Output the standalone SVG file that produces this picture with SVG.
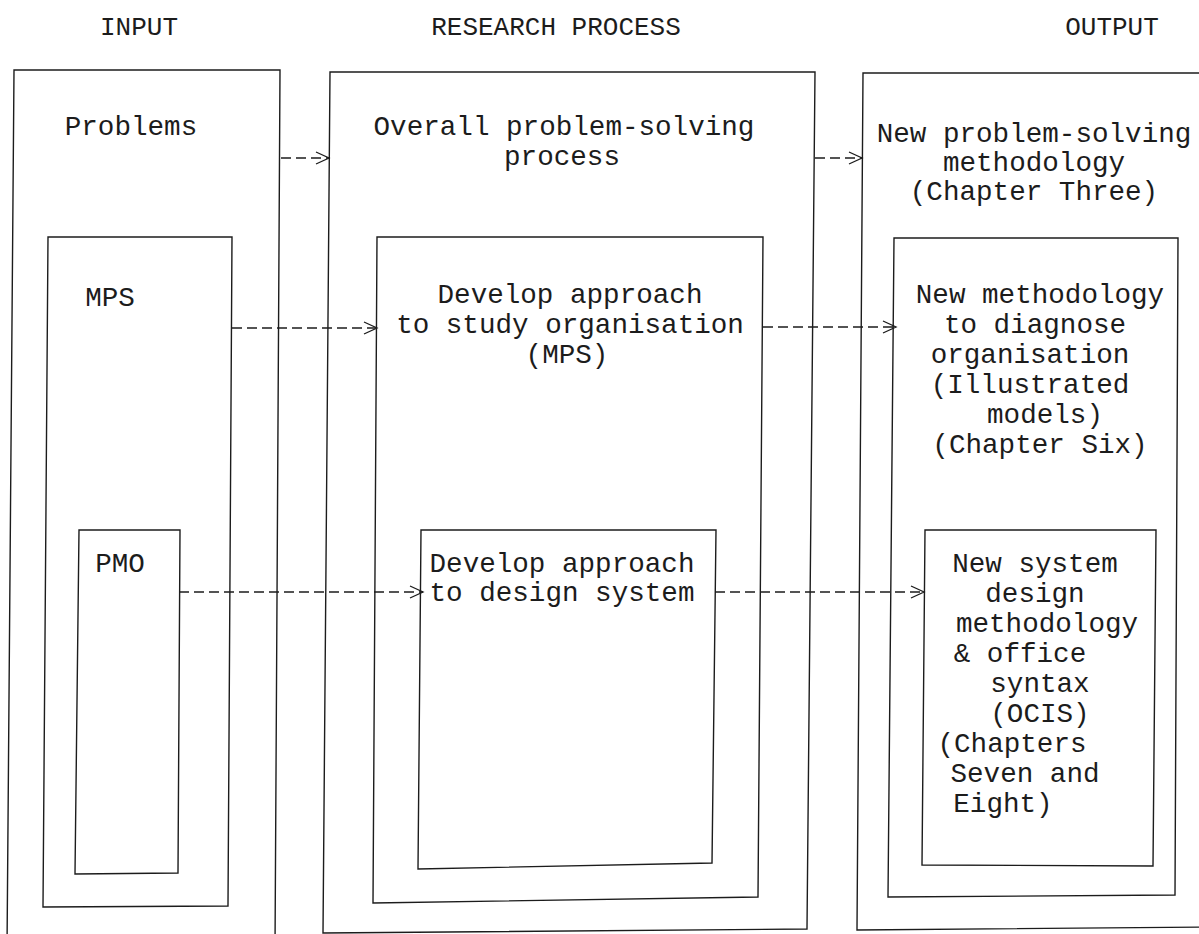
<svg xmlns="http://www.w3.org/2000/svg" width="1199" height="934" viewBox="0 0 1199 934">
<style>
.box{fill:none;stroke:#1c1c1c;stroke-width:1.4;stroke-linejoin:miter}
.t{font-family:"Liberation Mono","DejaVu Sans Mono",monospace;font-size:27.6px;fill:#1c1c1c;text-anchor:middle}
.h{font-size:26px}
.c{fill:none;stroke:#1c1c1c;stroke-width:1.3;stroke-dasharray:10 5}
</style>
<defs>
<marker id="ah" markerUnits="userSpaceOnUse" markerWidth="16" markerHeight="16" refX="14" refY="7" orient="auto">
<path d="M1,1 L14,7 L1,13" fill="none" stroke="#1c1c1c" stroke-width="1.3" stroke-dasharray="none"/>
</marker>
</defs>
<rect width="1199" height="934" fill="#fff"/>
<g id="headers">
<text class="t h" x="139" y="35">INPUT</text>
<text class="t h" x="556" y="35">RESEARCH PROCESS</text>
<text class="t h" x="1112" y="35">OUTPUT</text>
</g>
<g id="input-problems">
<polygon class="box" points="14,70 280,70 275,950 7,950"/>
<text class="t" x="131" y="135">Problems</text>
</g>
<g id="input-mps">
<polygon class="box" points="48,237 232,237 228,906 43,907"/>
<text class="t" x="110" y="306">MPS</text>
</g>
<g id="input-pmo">
<polygon class="box" points="79,530 180,530 178,873 75,874"/>
<text class="t" x="120" y="572">PMO</text>
</g>
<g id="research-overall">
<polygon class="box" points="330,72 815,72 807,929 323,933"/>
<text class="t" x="564" y="135">Overall problem-solving</text>
<text class="t" x="562" y="165">process</text>
</g>
<g id="research-mps">
<polygon class="box" points="377,237 763,237 758,897 373,903"/>
<text class="t" x="570" y="303">Develop approach</text>
<text class="t" x="570" y="333">to study organisation</text>
<text class="t" x="567" y="363">(MPS)</text>
</g>
<g id="research-pmo">
<polygon class="box" points="421,530 716,530 712,863 418,869"/>
<text class="t" x="562" y="572">Develop approach</text>
<text class="t" x="562" y="601">to design system</text>
</g>
<g id="output-overall">
<polygon class="box" points="863,73 1215,73 1215,927 857,930"/>
<text class="t" x="1034" y="142">New problem-solving</text>
<text class="t" x="1034" y="171">methodology</text>
<text class="t" x="1034" y="200">(Chapter Three)</text>
</g>
<g id="output-mps">
<polygon class="box" points="894,238 1178,238 1175,895 888,897"/>
<text class="t" x="1040" y="303">New methodology</text>
<text class="t" x="1035" y="333">to diagnose</text>
<text class="t" x="1030" y="363">organisation</text>
<text class="t" x="1030" y="393">(Illustrated</text>
<text class="t" x="1045" y="423">models)</text>
<text class="t" x="1040" y="453">(Chapter Six)</text>
</g>
<g id="output-pmo">
<polygon class="box" points="925,530 1156,530 1153,866 922,865"/>
<text class="t" x="1035" y="572">New system</text>
<text class="t" x="1035" y="602">design</text>
<text class="t" x="1047" y="632">methodology</text>
<text class="t" x="1020" y="662">&amp; office</text>
<text class="t" x="1040" y="692">syntax</text>
<text class="t" x="1040" y="722">(OCIS)</text>
<text class="t" x="1012" y="752">(Chapters</text>
<text class="t" x="1025" y="782">Seven and</text>
<text class="t" x="1003" y="812">Eight)</text>
</g>
<g id="connectors">
<line class="c" x1="281" y1="158" x2="329" y2="158" marker-end="url(#ah)"/>
<line class="c" x1="815" y1="158" x2="862" y2="158" marker-end="url(#ah)"/>
<line class="c" x1="232" y1="328" x2="377" y2="328" marker-end="url(#ah)"/>
<line class="c" x1="763" y1="327" x2="896" y2="327" marker-end="url(#ah)"/>
<line class="c" x1="179" y1="592" x2="423" y2="592" marker-end="url(#ah)"/>
<line class="c" x1="715" y1="592" x2="924" y2="592" marker-end="url(#ah)"/>
</g>
</svg>
